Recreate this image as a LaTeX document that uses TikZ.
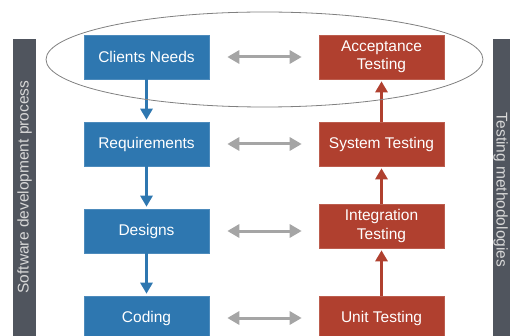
\documentclass[tikz,border=0pt]{standalone}
\usepackage{fontspec}
\setmainfont{Liberation Sans}
\usetikzlibrary{arrows.meta, positioning}

\definecolor{devblue}{HTML}{2E77B0}
\definecolor{testred}{HTML}{B0402F}
\definecolor{bargray}{HTML}{50555E}
\definecolor{linkgray}{HTML}{A5A5A5}
\definecolor{bartext}{HTML}{D8D8D8}

\begin{document}
\begin{tikzpicture}[x=1pt, y=-1pt, node distance=87pt and 235pt, on grid,
    box/.style={minimum width=125pt, minimum height=44pt, inner sep=0pt, text=white,
      align=center, font=\fontsize{15.5}{18.5}\selectfont},
    dev/.style={box, fill=devblue, draw=devblue!85!white, line width=0.6pt},
    test/.style={box, fill=testred, draw=testred!85!white, line width=0.6pt},
    flow/.style={line width=3pt, -{Triangle[width=12pt, length=11pt]}, shorten >=2pt},
    link/.style={line width=3pt, linkgray, {Triangle[width=13pt, length=12pt]}-{Triangle[width=13pt, length=12pt]},
      shorten <=18pt, shorten >=17pt},
    sidebar/.style={fill=bargray, minimum width=300pt, minimum height=23pt, inner sep=0pt},
    bartitle/.style={text=bartext, inner sep=0pt, font=\fontsize{15.5}{18.5}\selectfont}]

   \useasboundingbox (0,0) rectangle (510,336);

   % side bars
   \node[sidebar, rotate=90] (devbar) at (24.5,189) {};
   \node[bartitle, rotate=90] (devtitle) at (24.5,187) {Software development process};
   \node[sidebar, rotate=-90] (testbar) at (504,189) {};
   \node[bartitle, rotate=-90] (testtitle) at (500.5,190) {Testing methodologies};

   % development column
   \node[dev] (needs) at (146.5,57) {Clients Needs};
   \node[dev] (reqs) [below=of needs] {Requirements};
   \node[dev] (designs) [below=of reqs] {Designs};
   \node[dev] (coding) [below=of designs] {Coding};

   % testing column
   \node[test] (accept) [right=of needs] {Acceptance\\Testing};
   \node[test] (system) [right=of reqs] {System Testing};
   \node[test] (integ) [below=82pt of system] {Integration\\Testing};
   \node[test] (unit) [below=92pt of integ] {Unit Testing};

   \draw[flow, devblue] (needs) -- (reqs);
   \draw[flow, devblue] (reqs) -- (designs);
   \draw[flow, devblue] (designs) -- (coding);

   \draw[flow, testred] (unit) -- (integ);
   \draw[flow, testred] (integ) -- (system);
   \draw[flow, testred] (system) -- (accept);

   \draw[link] (needs) -- (accept);
   \draw[link] (reqs) -- (system);
   \draw[link] (designs) -- (designs -| integ.west);
   \draw[link] (coding) -- (unit);

   % ring round the top row
   \draw[gray, line width=0.8pt] (264.5,59.5) ellipse [x radius=218.5, y radius=47.5];

\end{tikzpicture}
\end{document}
